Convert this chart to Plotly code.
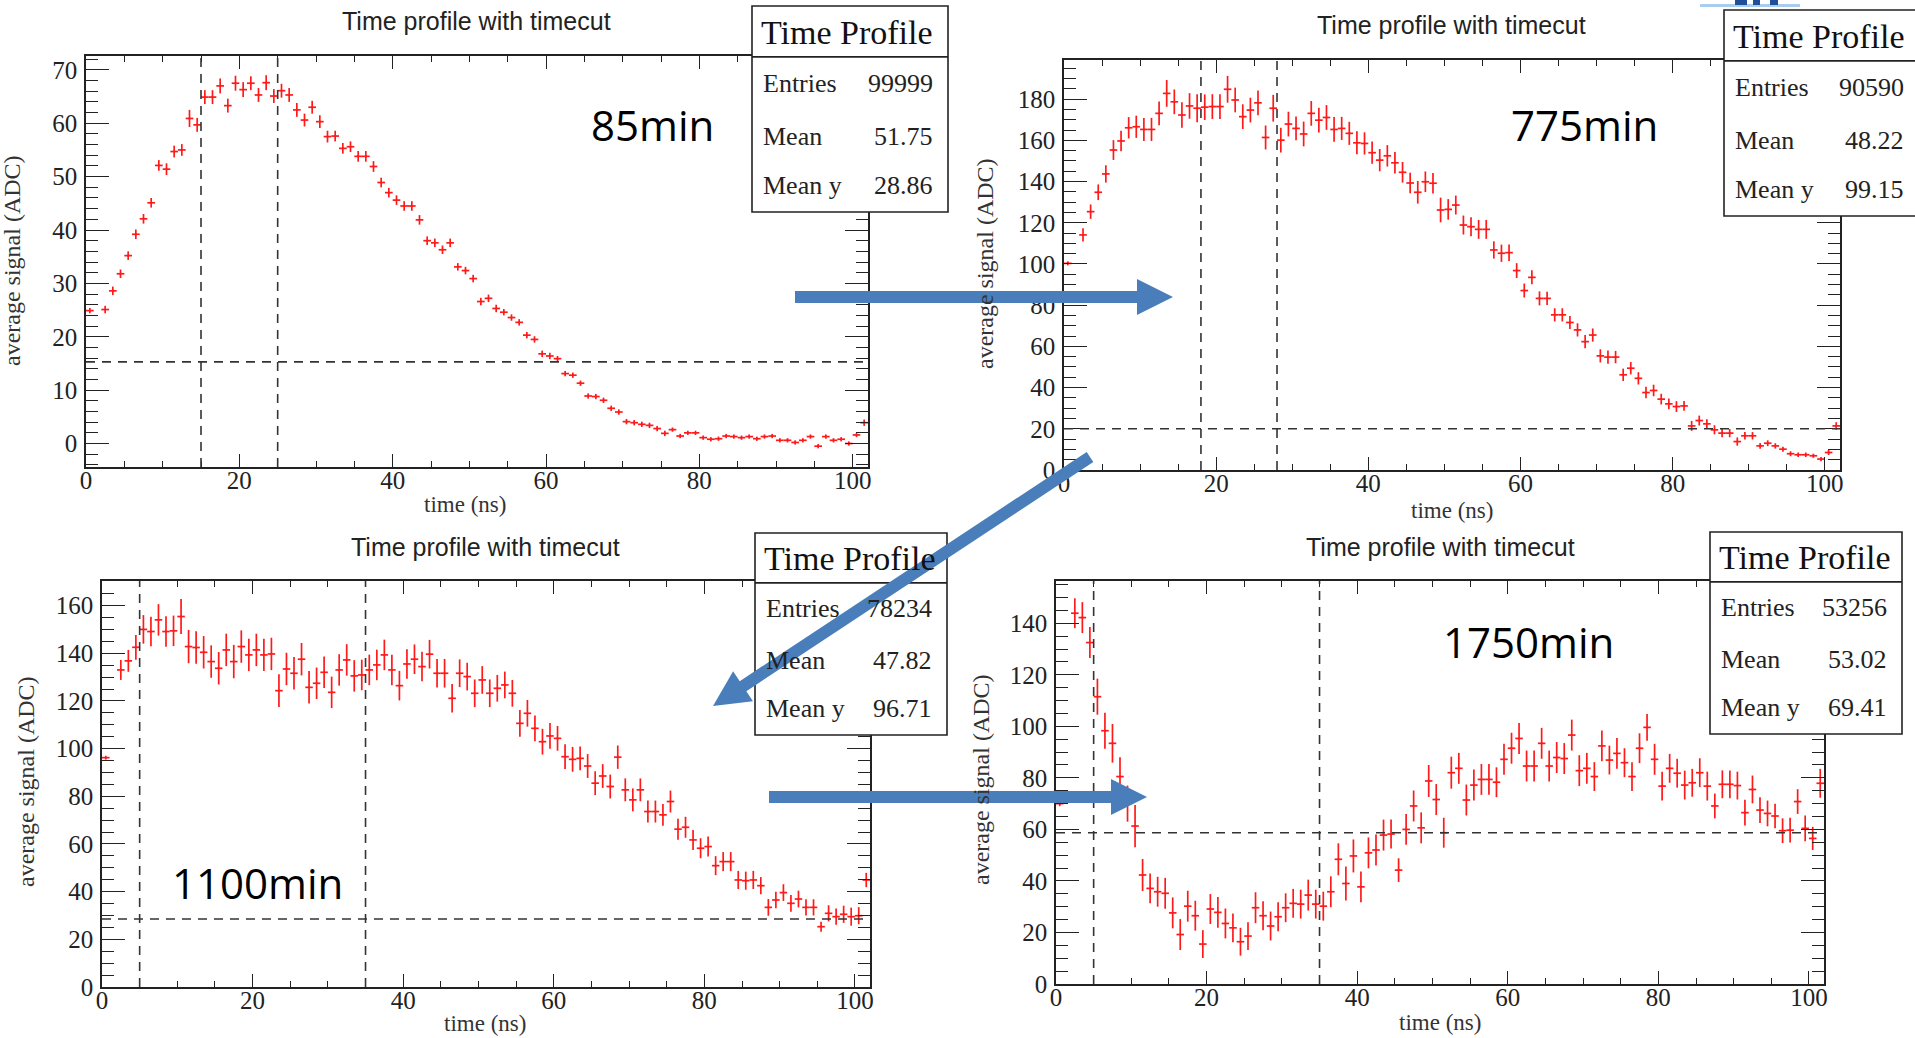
import math
import plotly.graph_objects as go

W, H = 1915, 1038

# Bin centres of the time profile (1 ns bins, bin 1-2 ns is empty)
BIN_CENTERS = [0.5] + [b + 0.5 for b in range(2, 102)]

# ---- 85 min ----
SIG_85 = [24.9, 25.1, 28.6, 31.8, 35.2, 39.2, 42.1, 45.1, 52.1, 51.4,
          54.7, 55.0, 60.9, 59.7, 64.9, 64.9, 67.0, 63.3, 67.5, 66.3,
          67.5, 65.3, 67.6, 65.1, 66.1, 65.3, 62.5, 60.6, 63.0, 60.3,
          57.5, 57.6, 55.3, 55.6, 53.8, 53.8, 51.9, 48.9, 47.0, 45.6,
          44.5, 44.5, 41.9, 38.0, 37.6, 36.3, 37.6, 33.1, 32.4, 30.9,
          26.6, 27.2, 25.3, 24.6, 23.6, 22.7, 20.3, 19.5, 16.8, 16.4,
          15.9, 13.1, 12.8, 11.3, 8.9, 8.8, 8.1, 6.6, 5.9, 4.1,
          3.9, 3.6, 3.4, 2.8, 1.9, 2.6, 1.4, 2.0, 2.0, 1.1,
          0.8, 0.9, 1.4, 1.3, 1.1, 1.3, 0.9, 1.3, 1.4, 0.6,
          0.6, 0.2, 0.6, 1.3, -0.5, 1.3, 0.6, 0.8, 0.0, 1.6,
          3.9]
ERR_85 = [0.5, 0.7, 0.8, 0.8, 0.8, 0.9, 0.9, 0.9, 1.0, 1.1,
          1.1, 1.1, 1.6, 1.3, 1.3, 1.3, 1.4, 1.3, 1.4, 1.4,
          1.3, 1.3, 1.4, 1.3, 1.3, 1.3, 1.3, 1.2, 1.2, 1.2,
          1.1, 1.0, 1.0, 1.0, 1.0, 1.0, 1.0, 0.9, 0.9, 0.9,
          0.9, 0.9, 0.9, 0.8, 0.8, 0.8, 0.8, 0.7, 0.7, 0.7,
          0.7, 0.7, 0.7, 0.6, 0.6, 0.6, 0.6, 0.6, 0.6, 0.6,
          0.5, 0.5, 0.5, 0.5, 0.5, 0.5, 0.5, 0.5, 0.5, 0.5,
          0.5, 0.5, 0.5, 0.5, 0.5, 0.4, 0.4, 0.4, 0.4, 0.4,
          0.4, 0.4, 0.4, 0.4, 0.4, 0.4, 0.4, 0.4, 0.4, 0.4,
          0.4, 0.4, 0.4, 0.4, 0.4, 0.4, 0.4, 0.4, 0.4, 0.4,
          0.6]

# ---- 775 min ----
SIG_775 = [100.3, 114.1, 125.4, 134.8, 143.7, 155.3, 159.7, 166.1, 166.6, 165.3,
           165.3, 173.1, 182.8, 178.7, 172.3, 176.7, 175.6, 176.1, 176.4, 176.4,
           184.8, 179.6, 171.5, 174.7, 178.2, 161.4, 175.6, 160.1, 167.9, 165.8,
           163.1, 173.1, 169.8, 171.1, 165.3, 165.8, 163.4, 158.8, 158.5, 154.0,
           150.4, 152.5, 149.1, 144.5, 139.3, 134.8, 139.9, 139.2, 126.2, 126.5,
           128.6, 118.9, 118.1, 116.8, 116.8, 106.8, 105.2, 105.5, 96.8, 87.1,
           93.5, 83.3, 83.3, 75.3, 75.3, 71.6, 68.0, 62.3, 65.5, 55.4,
           54.8, 54.8, 46.2, 49.4, 44.5, 37.6, 38.6, 34.4, 32.1, 30.8,
           31.1, 21.4, 24.0, 22.4, 19.5, 17.9, 17.9, 13.8, 16.6, 16.6,
           11.7, 13.0, 11.7, 10.1, 7.9, 7.4, 7.4, 6.9, 5.3, 8.5,
           21.4]
ERR_775 = [1.0, 3.2, 3.5, 3.8, 4.2, 4.8, 5.0, 5.2, 5.4, 5.6,
           5.6, 5.8, 6.5, 6.0, 6.2, 6.2, 6.8, 6.2, 6.0, 6.0,
           6.5, 6.0, 6.0, 6.0, 6.0, 5.8, 6.5, 6.0, 6.0, 5.8,
           6.0, 6.0, 6.0, 6.0, 6.0, 5.6, 5.6, 5.6, 5.4, 5.4,
           5.4, 5.2, 5.2, 5.0, 5.0, 5.5, 5.0, 5.0, 6.0, 5.0,
           4.6, 4.6, 4.6, 4.6, 4.6, 4.2, 4.2, 4.0, 3.6, 3.4,
           3.4, 3.4, 3.2, 3.2, 3.2, 3.2, 3.2, 3.2, 3.2, 3.2,
           3.2, 3.0, 3.0, 3.0, 3.0, 2.8, 2.8, 2.6, 2.6, 2.6,
           2.4, 2.4, 2.4, 2.2, 2.2, 2.0, 2.0, 2.0, 1.8, 1.8,
           1.4, 1.4, 1.3, 1.2, 1.2, 1.1, 1.1, 1.0, 1.0, 1.2,
           1.8]

# ---- 1100 min ----
SIG_1100 = [96.2, 133.0, 136.8, 142.5, 150.0, 149.1, 154.0, 149.1, 149.4, 155.4,
            142.8, 142.4, 140.4, 136.5, 133.7, 141.4, 136.5, 142.8, 139.3, 141.4,
            139.3, 139.7, 124.3, 133.4, 131.6, 137.5, 125.7, 127.4, 132.0, 123.6,
            133.0, 137.2, 130.5, 130.9, 133.0, 135.1, 139.3, 133.0, 126.4, 135.5,
            137.5, 134.4, 139.6, 131.6, 131.6, 121.1, 131.6, 130.2, 123.2, 128.8,
            123.2, 125.3, 126.7, 123.2, 110.6, 114.8, 108.5, 102.9, 105.3, 104.3,
            96.6, 95.5, 95.9, 92.7, 85.5, 88.5, 84.1, 96.4, 82.7, 78.5,
            82.7, 73.6, 73.6, 72.2, 77.8, 66.2, 67.0, 61.7, 58.2, 58.9,
            50.9, 52.6, 52.6, 44.9, 44.6, 44.9, 42.5, 33.4, 36.5, 39.6,
            35.1, 36.9, 33.4, 33.4, 25.3, 30.9, 29.5, 30.5, 29.5, 29.9,
            44.9]
ERR_1100 = [0.8, 4.2, 4.6, 5.2, 6.0, 6.2, 6.6, 6.4, 6.4, 7.3,
            7.0, 6.8, 6.8, 6.8, 6.8, 6.8, 7.0, 6.8, 6.8, 6.8,
            6.8, 6.8, 6.9, 6.8, 6.8, 6.8, 6.8, 6.6, 6.6, 6.6,
            6.6, 6.6, 6.6, 6.4, 6.4, 6.4, 6.4, 6.4, 6.2, 6.2,
            6.2, 6.2, 6.0, 6.0, 6.0, 6.0, 5.8, 5.8, 5.8, 5.8,
            5.8, 5.6, 5.6, 5.6, 5.6, 5.6, 5.4, 5.4, 5.4, 5.2,
            5.2, 5.2, 5.0, 5.0, 5.0, 5.0, 5.0, 4.9, 4.8, 4.8,
            4.8, 4.6, 4.6, 4.6, 4.6, 4.4, 4.4, 4.2, 4.2, 4.2,
            4.0, 4.0, 4.0, 3.8, 3.8, 3.8, 3.6, 3.5, 3.5, 3.5,
            3.5, 3.5, 3.4, 3.4, 2.1, 3.4, 3.4, 3.6, 3.8, 3.6,
            3.0]

# ---- 1750 min ----
SIG_1750 = [70.0, 143.9, 142.2, 132.5, 111.5, 98.3, 93.4, 80.5, 70.0, 61.3,
            42.3, 37.1, 35.8, 35.2, 27.6, 19.2, 30.2, 26.5, 15.5, 29.1,
            27.8, 23.5, 21.8, 16.4, 18.6, 29.6, 26.5, 22.5, 26.1, 29.6,
            31.3, 31.0, 34.5, 31.0, 30.2, 35.8, 48.4, 39.0, 49.7, 37.7,
            50.9, 52.0, 57.8, 58.2, 44.2, 60.0, 69.1, 60.6, 78.8, 71.6,
            58.7, 82.0, 83.7, 71.4, 77.2, 79.4, 79.4, 78.3, 87.2, 91.5,
            95.3, 84.6, 84.6, 93.4, 84.6, 87.9, 87.5, 96.6, 82.8, 83.7,
            80.5, 92.4, 86.9, 89.5, 85.9, 80.5, 91.5, 99.6, 87.2, 76.8,
            83.7, 81.8, 77.2, 78.1, 82.0, 76.8, 69.1, 77.5, 77.5, 77.0,
            66.5, 75.5, 67.5, 66.2, 65.2, 59.5, 59.7, 70.8, 60.4, 56.5,
            77.9]
ERR_1750 = [1.0, 5.8, 6.0, 6.0, 7.0, 7.0, 7.5, 7.5, 7.0, 8.2,
            6.2, 5.8, 5.8, 6.0, 6.0, 6.0, 6.0, 5.8, 5.4, 5.8,
            6.0, 5.8, 5.6, 5.4, 5.4, 6.0, 5.6, 5.6, 5.6, 5.6,
            5.6, 5.6, 6.0, 5.6, 5.6, 6.0, 6.2, 6.6, 6.4, 6.0,
            6.0, 6.0, 6.0, 5.6, 4.6, 6.0, 6.0, 6.0, 6.2, 6.0,
            5.8, 6.2, 6.0, 6.0, 6.0, 6.0, 6.0, 5.8, 6.0, 6.0,
            6.0, 6.0, 6.0, 6.0, 6.0, 6.0, 6.0, 6.0, 6.0, 6.0,
            5.6, 6.0, 5.6, 6.0, 5.6, 5.6, 5.8, 5.2, 6.0, 5.6,
            5.6, 5.6, 5.6, 5.4, 5.6, 5.6, 4.8, 5.4, 5.4, 5.4,
            5.0, 5.4, 5.0, 5.0, 4.8, 4.8, 4.8, 4.8, 5.0, 4.5,
            5.6]

for series in (SIG_85, ERR_85, SIG_775, ERR_775, SIG_1100, ERR_1100, SIG_1750, ERR_1750):
    assert len(series) == len(BIN_CENTERS), len(series)

# Threshold (horizontal) and time-window (vertical) cuts
THR = [15.3, 20.0, 28.5, 58.7]
WINDOWS = [(15, 25), (18, 28), (5, 35), (5, 35)]

STATS = [
    ("99999", "51.75", "28.86"),
    ("90590", "48.22", "99.15"),
    ("78234", "47.82", "96.71"),
    ("53256", "53.02", "69.41"),
]
RUN_LABELS = ["85min", "775min", "1100min", "1750min"]

# Layout geometry in pixels
FRAMES = [(86, 56, 868, 467), (1064, 60, 1840, 470),
          (102, 581, 870, 987), (1056, 581, 1824, 984)]
YRANGES = [(-4.4, 72.6), (0, 199), (0, 170.3), (0, 156.4)]
YDTICK = [10, 20, 20, 20]
YMINOR = [2, 5, 5, 5]
TITLE_POS = [(476, 21), (1451, 25), (485, 547), (1440, 547)]
XTITLE_POS = [(465, 504), (1452, 510), (485, 1023), (1440, 1022)]
YTITLE_POS = [(12, 261), (985, 264), (26, 782), (981, 780)]
STAT_BOX = [(752, 6, 948, 212), (1724, 10, 1925, 216),
            (755, 533, 947, 735), (1710, 532, 1902, 734)]
LABEL_POS = [(652, 125), (1584, 125), (257, 882), (1528, 641)]

SERIES = [(SIG_85, ERR_85), (SIG_775, ERR_775), (SIG_1100, ERR_1100), (SIG_1750, ERR_1750)]


def px(x):
    return x / W


def py(y):
    return 1 - y / H


fig = go.Figure()
shapes = []
annotations = []
layout_axes = {}

TICK_FONT = dict(family="Liberation Serif, Times New Roman, serif", size=25, color="#222")

for i in range(4):
    n = i + 1
    xa = "x" if n == 1 else f"x{n}"
    ya = "y" if n == 1 else f"y{n}"
    l, t, r, b = FRAMES[i]
    sig, err = SERIES[i]

    fig.add_trace(go.Scatter(
        x=BIN_CENTERS, y=sig, xaxis=xa, yaxis=ya, mode="markers",
        marker=dict(color="#ff1a1a", size=2),
        error_x=dict(type="constant", value=0.5, width=0, thickness=1.7, color="#ff1a1a"),
        error_y=dict(type="data", array=err, width=0, thickness=1.7, color="#ff1a1a"),
        showlegend=False, hoverinfo="x+y"))

    common = dict(showline=True, linecolor="#222", linewidth=1.5, mirror="allticks",
                  ticks="inside", tickcolor="#222", tickwidth=1.4, showgrid=False,
                  zeroline=False, tickfont=TICK_FONT, automargin=False)
    layout_axes["xaxis" if n == 1 else f"xaxis{n}"] = dict(
        common, domain=[px(l), px(r)], range=[0, 102], anchor=ya,
        tickmode="linear", tick0=0, dtick=20, ticklen=13, ticklabelstandoff=-10,
        minor=dict(tick0=0, dtick=5, ticklen=6, ticks="inside", tickcolor="#222",
                   tickwidth=1.2, showgrid=False))
    layout_axes["yaxis" if n == 1 else f"yaxis{n}"] = dict(
        common, domain=[py(b), py(t)], range=list(YRANGES[i]), anchor=xa,
        tickmode="linear", tick0=0, dtick=YDTICK[i], ticklen=23, ticklabelstandoff=2,
        minor=dict(tick0=0, dtick=YMINOR[i], ticklen=12, ticks="inside", tickcolor="#222",
                   tickwidth=1.2, showgrid=False))

    # cut lines
    dash = dict(color="#333", width=1.6, dash="9px,7px")
    shapes.append(dict(type="line", xref=f"{xa} domain", yref=ya, x0=0, x1=1,
                       y0=THR[i], y1=THR[i], line=dash))
    for tcut in WINDOWS[i]:
        shapes.append(dict(type="line", xref=xa, yref=f"{ya} domain", x0=tcut, x1=tcut,
                           y0=0, y1=1, line=dash))

    # titles
    tx, ty = TITLE_POS[i]
    annotations.append(dict(text="Time profile with timecut", x=px(tx), y=py(ty),
                            xref="paper", yref="paper", showarrow=False,
                            xanchor="center", yanchor="middle",
                            font=dict(family="Liberation Sans, Arial, sans-serif",
                                      size=25, color="#222")))
    ax_, ay_ = XTITLE_POS[i]
    annotations.append(dict(text="time (ns)", x=px(ax_), y=py(ay_), xref="paper",
                            yref="paper", showarrow=False, xanchor="center",
                            yanchor="middle",
                            font=dict(family="Liberation Serif, serif", size=23, color="#333")))
    yx, yy = YTITLE_POS[i]
    annotations.append(dict(text="average signal (ADC)", x=px(yx), y=py(yy),
                            xref="paper", yref="paper", showarrow=False,
                            xanchor="center", yanchor="middle", textangle=-90,
                            font=dict(family="Liberation Serif, serif", size=24, color="#333")))

    # statistics box
    bl, bt, br, bb = STAT_BOX[i]
    bh = bb - bt
    shapes.append(dict(type="rect", xref="paper", yref="paper", x0=px(bl), x1=px(br),
                       y0=py(bb), y1=py(bt), fillcolor="white",
                       line=dict(color="#222", width=1.6), layer="above"))
    sep = bt + 0.247 * bh
    shapes.append(dict(type="line", xref="paper", yref="paper", x0=px(bl), x1=px(br),
                       y0=py(sep), y1=py(sep), line=dict(color="#222", width=1.6),
                       layer="above"))
    annotations.append(dict(text="Time Profile", x=px(bl + 7), y=py(bt + 0.128 * bh),
                            xref="paper", yref="paper", showarrow=False,
                            xanchor="left", yanchor="middle",
                            font=dict(family="Liberation Serif, serif", size=34, color="#111")))
    vright = min(br, 1919) - 13
    for label, value, frac in zip(["Entries", "Mean", "Mean y"], STATS[i],
                                  [0.375, 0.633, 0.87]):
        annotations.append(dict(text=label, x=px(bl + 9), y=py(bt + frac * bh),
                                xref="paper", yref="paper", showarrow=False,
                                xanchor="left", yanchor="middle",
                                font=dict(family="Liberation Serif, serif", size=26,
                                          color="#222")))
        annotations.append(dict(text=value, x=px(vright), y=py(bt + frac * bh),
                                xref="paper", yref="paper", showarrow=False,
                                xanchor="right", yanchor="middle",
                                font=dict(family="Liberation Serif, serif", size=26,
                                          color="#222")))

    # run-time label
    lx, ly = LABEL_POS[i]
    annotations.append(dict(text=RUN_LABELS[i], x=px(lx), y=py(ly), xref="paper",
                            yref="paper", showarrow=False, xanchor="center",
                            yanchor="middle",
                            font=dict(family="Open Sans, Noto Sans, sans-serif", size=42,
                                      color="black")))


def block_arrow(x0, y0, x1, y1, half_w=6, head_len=36, head_half=18):
    """Filled block arrow from (x0, y0) to tip (x1, y1), pixel coordinates."""
    dx, dy = x1 - x0, y1 - y0
    ln = math.hypot(dx, dy)
    ux, uy = dx / ln, dy / ln
    nx, ny = -uy, ux
    bx, by = x1 - ux * head_len, y1 - uy * head_len
    pts = [(x0 + nx * half_w, y0 + ny * half_w), (bx + nx * half_w, by + ny * half_w),
           (bx + nx * head_half, by + ny * head_half), (x1, y1),
           (bx - nx * head_half, by - ny * head_half), (bx - nx * half_w, by - ny * half_w),
           (x0 - nx * half_w, y0 - ny * half_w)]
    path = "M " + " L ".join(f"{px(a):.5f},{py(c):.5f}" for a, c in pts) + " Z"
    return dict(type="path", xref="paper", yref="paper", path=path,
                fillcolor="#4a7ebb", line=dict(width=0), layer="above")


shapes.append(block_arrow(795, 297, 1173, 297))
shapes.append(block_arrow(1090, 457, 713, 706))
shapes.append(block_arrow(769, 797, 1147, 797))

# small logo fragment at the top edge
for (a, c, d, e, col) in [(1700, 4, 1800, 7, "#a9cdee"), (1735, 0, 1747, 5, "#1f4f99"),
                          (1753, 0, 1760, 5, "#1f4f99"), (1770, 0, 1778, 5, "#1f4f99")]:
    shapes.append(dict(type="rect", xref="paper", yref="paper", x0=px(a), x1=px(d),
                       y0=py(e), y1=py(c), fillcolor=col, line=dict(width=0)))

fig.update_layout(
    width=W, height=H, margin=dict(l=0, r=0, t=0, b=0, pad=0, autoexpand=False),
    paper_bgcolor="white", plot_bgcolor="white",
    shapes=shapes, annotations=annotations, showlegend=False,
    **layout_axes)

fig.write_html("out.html")
